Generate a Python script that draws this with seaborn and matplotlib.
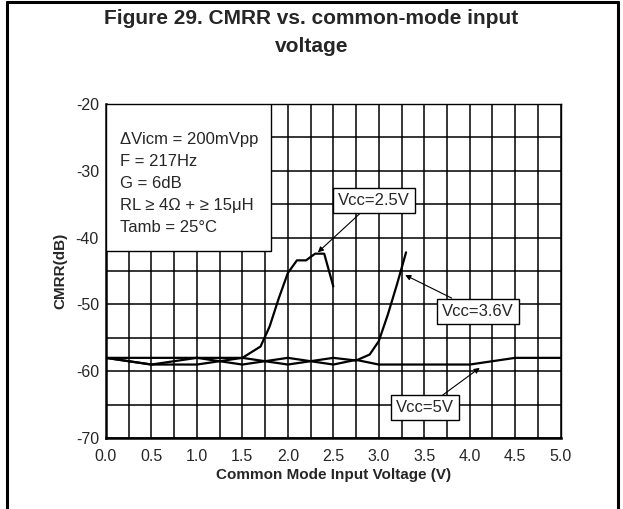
import numpy as np
import pandas as pd
import matplotlib
matplotlib.use("Agg")
import matplotlib.pyplot as plt
import seaborn as sns
from matplotlib.lines import Line2D

# ---- data ----
x_25 = [0.0, 1.5, 1.7, 1.8, 1.9, 2.0, 2.1, 2.2, 2.3, 2.4, 2.5]
y_25 = [-58, -58, -56.3, -53.3, -49.1, -45.3, -43.4, -43.4, -42.4, -42.4, -47.3]

x_36 = [0.0, 0.5, 1.0, 1.5, 2.0, 2.5, 2.75, 2.9, 3.0, 3.1, 3.2, 3.3]
y_36 = [-58, -59, -59, -58, -59, -58, -58.4, -57.5, -55.5, -51.5, -47.0, -42.2]

x_5 = [0.0, 0.5, 1.0, 1.5, 2.0, 2.5, 2.75, 3.0, 4.0, 4.5, 5.0]
y_5 = [-58, -59, -58, -59, -58, -59, -58.3, -59, -59, -58, -58]

series_labels = ["Vcc=2.5V", "Vcc=3.6V", "Vcc=5V"]
x_ticks = [0.0, 0.5, 1.0, 1.5, 2.0, 2.5, 3.0, 3.5, 4.0, 4.5, 5.0]
y_ticks = [-70, -60, -50, -40, -30, -20]
cond_lines = ["\u0394Vicm = 200mVpp", "F = 217Hz", "G = 6dB",
              "RL \u2265 4\u03a9 + \u2265 15\u03bcH", "Tamb = 25\u00b0C"]

df = pd.concat([
    pd.DataFrame({"v": x_25, "cmrr": y_25, "s": series_labels[0]}),
    pd.DataFrame({"v": x_36, "cmrr": y_36, "s": series_labels[1]}),
    pd.DataFrame({"v": x_5, "cmrr": y_5, "s": series_labels[2]}),
])

sns.set_theme(style="white")
plt.rcParams['font.family'] = ['Liberation Sans', 'DejaVu Sans']

fig = plt.figure(figsize=(6.23, 5.09), dpi=100)
ax = fig.add_axes([0.170, 0.1395, 0.730, 0.656])

for lab in series_labels:
    sub = df[df.s == lab]
    sns.lineplot(data=sub, x="v", y="cmrr", ax=ax, color="black", lw=1.6,
                 sort=False, estimator=None, legend=False, zorder=3)

ax.set_xlim(0, 5)
ax.set_ylim(-70, -20)
ax.set_xticks(x_ticks)
ax.set_xticklabels([f"{v:.1f}" for v in x_ticks])
ax.set_xticks(np.arange(0, 5.01, 0.25), minor=True)
ax.set_yticks(y_ticks)
ax.set_yticklabels([str(v) for v in y_ticks])
ax.set_yticks(np.arange(-70, -19, 5), minor=True)
ax.grid(which="both", color="black", lw=1.1, zorder=1)
ax.set_axisbelow(True)
ax.tick_params(axis="both", which="both", direction="in", length=4,
               color="black", labelsize=11.5)
ax.tick_params(axis="x", which="major", pad=8)
ax.tick_params(axis="y", which="major", pad=5)
for side in ["top", "right"]:
    ax.spines[side].set_color("black")
    ax.spines[side].set_linewidth(1.0)
for side in ["left", "bottom"]:
    ax.spines[side].set_color("black")
    ax.spines[side].set_linewidth(1.8)

ax.set_xlabel("Common Mode Input Voltage (V)", fontsize=11, fontweight="bold", labelpad=3)
ax.set_ylabel("CMRR(dB)", fontsize=11, fontweight="bold", labelpad=6)

# conditions box
ax.add_patch(plt.Rectangle((0, -42.0), 1.82, 22.0, facecolor="white",
                           edgecolor="black", lw=1.0, zorder=4))
for i, t in enumerate(cond_lines):
    ax.text(0.15, -25.3 - i * 3.3, t, fontsize=12, va="center", ha="left", zorder=5)

bbox = dict(boxstyle="square,pad=0.3", fc="white", ec="black", lw=1.0)
arrow = dict(arrowstyle="-|>", color="black", lw=0.8, mutation_scale=8, shrinkA=0, shrinkB=0)
ax.annotate(series_labels[0], xy=(2.33, -42.2), xytext=(2.95, -34.4), fontsize=12,
            ha="center", va="center", bbox=bbox, arrowprops=arrow, zorder=6)
ax.annotate(series_labels[1], xy=(3.29, -45.6), xytext=(4.09, -51.0), fontsize=12,
            ha="center", va="center", bbox=bbox, arrowprops=arrow, zorder=6)
ax.annotate(series_labels[2], xy=(4.11, -59.5), xytext=(3.51, -65.5), fontsize=12,
            ha="center", va="center", bbox=bbox, arrowprops=arrow, zorder=6)

# title
fig.text(0.5, 1 - 18 / 509, "Figure 29. CMRR vs. common-mode input", ha="center",
         va="center", fontsize=15, fontweight="bold")
fig.text(0.5, 1 - 47 / 509, "voltage", ha="center", va="center", fontsize=15,
         fontweight="bold")

# outer frame (top, left, right)
W, H = 623, 509
fig.add_artist(Line2D([7 / W, 7 / W], [0, 1 - 1.5 / H], color="black", lw=2.2))
fig.add_artist(Line2D([618 / W, 618 / W], [0, 1 - 1.5 / H], color="black", lw=2.2))
fig.add_artist(Line2D([7 / W, 618 / W], [1 - 1.5 / H, 1 - 1.5 / H], color="black", lw=2.2))

fig.savefig("out.png", dpi=100)
